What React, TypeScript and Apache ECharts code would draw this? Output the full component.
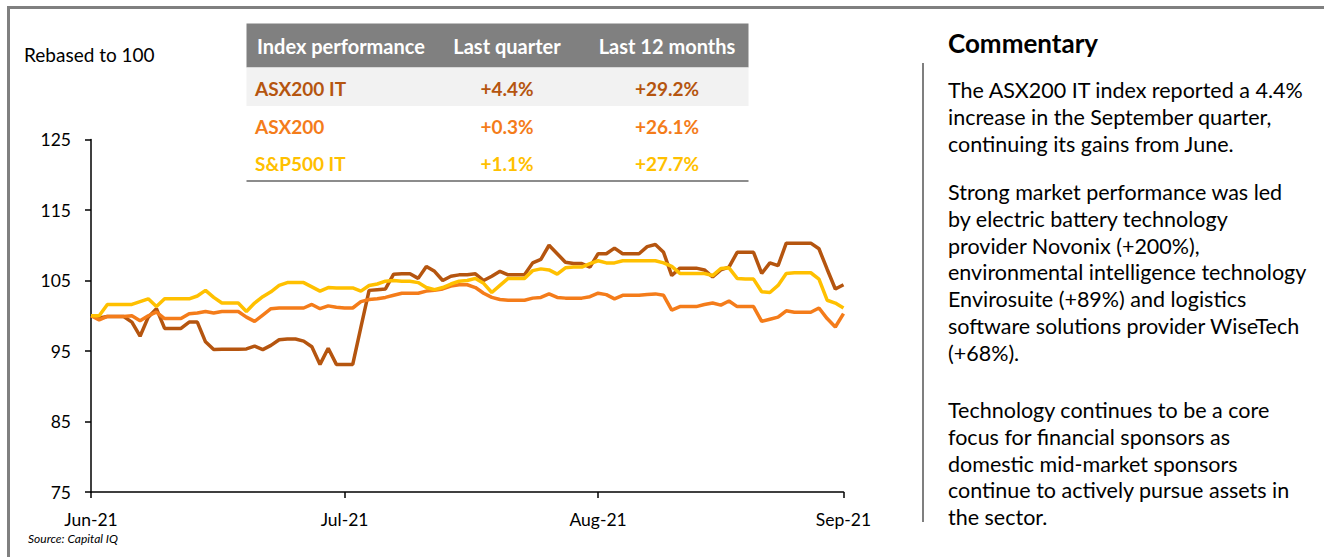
import React, { useEffect, useRef } from "react";
import * as echarts from "echarts";

// ---- Data ----
const seriesNames = ["ASX200 IT", "ASX200", "S&P500 IT"];
const seriesColors = ["#B5550F", "#F47C1A", "#FFC000"];

const asx200It = [
  100.0, 99.7, 99.9, 99.9, 99.9, 99.1, 97.1, 99.8, 101.0, 98.2,
  98.2, 98.2, 99.1, 99.1, 96.3, 95.2, 95.25, 95.25, 95.25, 95.3,
  95.7, 95.2, 95.8, 96.6, 96.7, 96.7, 96.4, 95.6, 93.1, 95.4,
  93.1, 93.1, 93.1, 98.4, 103.6, 103.7, 103.8, 105.9, 105.95, 105.95,
  105.3, 107.0, 106.3, 105.0, 105.6, 105.8, 105.8, 105.95, 105.0, 105.6,
  106.3, 105.8, 105.8, 105.8, 107.5, 108.0, 110.0, 108.8, 107.6, 107.4,
  107.4, 106.9, 108.8, 108.8, 109.6, 108.8, 108.8, 108.8, 109.8, 110.1,
  109.0, 105.7, 106.75, 106.75, 106.75, 106.5, 105.5, 106.5, 106.9, 109.0,
  109.0, 109.0, 106.0, 107.5, 107.1, 110.3, 110.3, 110.3, 110.3, 109.5,
  106.6, 103.8, 104.4,
];

const asx200 = [
  100.0, 99.4, 99.9, 99.9, 99.9, 100.0, 99.3, 100.0, 100.5, 99.6,
  99.6, 99.6, 100.3, 100.4, 100.6, 100.4, 100.6, 100.6, 100.6, 99.8,
  99.2, 100.1, 101.0, 101.1, 101.1, 101.1, 101.1, 101.6, 101.0, 101.4,
  101.2, 101.1, 101.1, 102.0, 102.3, 102.4, 102.6, 102.9, 103.2, 103.2,
  103.2, 103.5, 103.6, 103.8, 104.2, 104.4, 104.4, 104.0, 103.2, 102.6,
  102.3, 102.2, 102.2, 102.2, 102.5, 102.6, 103.1, 102.6, 102.5, 102.5,
  102.5, 102.7, 103.2, 103.0, 102.4, 102.9, 102.9, 102.9, 103.0, 103.1,
  102.9, 100.8, 101.3, 101.3, 101.3, 101.6, 101.8, 101.5, 102.1, 101.3,
  101.3, 101.3, 99.2, 99.5, 99.8, 100.7, 100.5, 100.5, 100.5, 101.1,
  99.6, 98.4, 100.3,
];

const sp500It = [
  100.0, 100.0, 101.6, 101.6, 101.6, 101.6, 102.0, 102.4, 101.3, 102.4,
  102.4, 102.4, 102.4, 102.8, 103.6, 102.6, 101.8, 101.8, 101.8, 100.6,
  101.8, 102.7, 103.4, 104.3, 104.7, 104.7, 104.7, 104.1, 103.5, 104.0,
  103.95, 103.95, 103.95, 103.5, 104.3, 104.5, 104.9, 105.0, 104.9, 104.9,
  104.7, 104.0, 103.7, 104.0, 104.5, 104.9, 105.0, 105.3, 104.6, 103.3,
  104.3, 105.3, 105.3, 105.3, 106.4, 106.65, 106.5, 105.9, 106.8, 106.9,
  106.9, 107.4, 107.8, 107.5, 107.5, 107.8, 107.8, 107.8, 107.8, 107.8,
  107.5, 107.0, 106.0, 106.0, 106.0, 106.0, 105.7, 106.7, 106.8, 105.3,
  105.2, 105.2, 103.4, 103.3, 104.3, 106.0, 106.1, 106.1, 106.1, 105.2,
  102.2, 101.8, 101.1,
];

// daily calendar dates, 30 Jun 2021 .. 30 Sep 2021
const categories: string[] = [];
{
  const start = Date.UTC(2021, 5, 30);
  for (let i = 0; i < asx200It.length; i++) {
    categories.push(new Date(start + i * 86400000).toISOString().slice(0, 10));
  }
}
const tickDates = ["2021-06-30", "2021-07-31", "2021-08-31", "2021-09-30"];
const tickLabels = ["Jun-21", "Jul-21", "Aug-21", "Sep-21"];

const tableHeaders = ["Index performance", "Last quarter", "Last 12 months"];
const lastQuarter = ["+4.4%", "+0.3%", "+1.1%"];
const last12Months = ["+29.2%", "+26.1%", "+27.7%"];

const commentaryTitle = "Commentary";
const commentary = [
  [
    "The ASX200 IT index reported a 4.4%",
    "increase in the September quarter,",
    "continuing its gains from June.",
  ],
  [
    "Strong market performance was led",
    "by electric battery technology",
    "provider Novonix (+200%),",
    "environmental intelligence technology",
    "Envirosuite (+89%) and logistics",
    "software solutions provider WiseTech",
    "(+68%).",
  ],
  [
    "Technology continues to be a core",
    "focus for financial sponsors as",
    "domestic mid-market sponsors",
    "continue to actively pursue assets in",
    "the sector.",
  ],
];

const FONT = "Lato";

export default function App() {
  const ref = useRef<HTMLDivElement>(null);

  useEffect(() => {
    if (!ref.current) return;
    const chart = echarts.init(ref.current, undefined, { renderer: "svg" });

    const graphics: any[] = [];
    // outer frame
    graphics.push({
      type: "line",
      shape: { x1: 7, y1: 7.5, x2: 1324, y2: 7.5 },
      style: { stroke: "#808080", lineWidth: 3 },
    });
    graphics.push({
      type: "line",
      shape: { x1: 8.5, y1: 6, x2: 8.5, y2: 557 },
      style: { stroke: "#808080", lineWidth: 3 },
    });
    graphics.push({
      type: "text",
      x: 24,
      y: 54,
      style: { text: "Rebased to 100", fontFamily: FONT, fontSize: 19, fill: "#000", verticalAlign: "middle" },
    });
    graphics.push({
      type: "text",
      x: 28,
      y: 538,
      style: { text: "Source: Capital IQ", fontFamily: FONT, fontSize: 12, fontStyle: "italic", fill: "#000", verticalAlign: "middle" },
    });

    // table
    const tL = 246.5, tR = 748.5;
    const colX = [257, 507, 667];
    graphics.push({ type: "rect", shape: { x: tL, y: 23.5, width: tR - tL, height: 44 }, style: { fill: "#808080" } });
    graphics.push({ type: "rect", shape: { x: tL, y: 67.5, width: tR - tL, height: 38.5 }, style: { fill: "#F2F2F2" } });
    graphics.push({ type: "line", shape: { x1: tL, y1: 181, x2: tR, y2: 181 }, style: { stroke: "#8C8C8C", lineWidth: 2 } });
    tableHeaders.forEach((h, i) => {
      graphics.push({
        type: "text",
        x: colX[i],
        y: 46,
        style: {
          text: h, fontFamily: FONT, fontSize: 20, fontWeight: "bold", fill: "#fff",
          align: i === 0 ? "left" : "center", verticalAlign: "middle",
        },
      });
    });
    const rowY = [88, 126, 163];
    seriesNames.forEach((n, r) => {
      const cells = [n, lastQuarter[r], last12Months[r]];
      cells.forEach((c, i) => {
        graphics.push({
          type: "text",
          x: i === 0 ? 255 : colX[i],
          y: rowY[r],
          style: {
            text: c, fontFamily: FONT, fontSize: 19, fontWeight: "bold", fill: seriesColors[r],
            align: i === 0 ? "left" : "center", verticalAlign: "middle",
          },
        });
      });
    });

    // commentary
    graphics.push({
      type: "text",
      x: 948,
      y: 43,
      style: { text: commentaryTitle, fontFamily: FONT, fontSize: 26, fontWeight: "bold", fill: "#000", verticalAlign: "middle" },
    });
    graphics.push({
      type: "line",
      shape: { x1: 923, y1: 63, x2: 923, y2: 522 },
      style: { stroke: "#7F7F7F", lineWidth: 2 },
    });
    const pStart = [90, 192, 410];
    const lh = 26.8;
    commentary.forEach((p, pi) => {
      p.forEach((line, li) => {
        graphics.push({
          type: "text",
          x: 948,
          y: pStart[pi] + li * lh,
          style: { text: line, fontFamily: FONT, fontSize: 21.5, fill: "#000", verticalAlign: "middle" },
        });
      });
    });

    const data = [asx200It, asx200, sp500It];

    chart.setOption({
      animation: false,
      backgroundColor: "#fff",
      textStyle: { fontFamily: FONT },
      grid: { left: 91, top: 139.5, width: 752.5, height: 352.5, containLabel: false },
      xAxis: {
        type: "category",
        data: categories,
        boundaryGap: false,
        axisLine: { show: true, lineStyle: { color: "#000", width: 1.5 } },
        axisTick: {
          show: true,
          length: 6,
          interval: (_i: number, v: string) => tickDates.includes(v),
          lineStyle: { color: "#000", width: 1.5 },
        },
        axisLabel: {
          interval: (_i: number, v: string) => tickDates.includes(v),
          formatter: (v: string) => tickLabels[tickDates.indexOf(v)] ?? "",
          color: "#000",
          fontFamily: FONT,
          fontSize: 17.5,
          margin: 18,
        },
        splitLine: { show: false },
      },
      yAxis: {
        type: "value",
        min: 75,
        max: 125,
        interval: 10,
        axisLine: { show: true, lineStyle: { color: "#000", width: 1.5 } },
        axisTick: { show: true, length: 6, lineStyle: { color: "#000", width: 1.5 } },
        axisLabel: { color: "#000", fontFamily: FONT, fontSize: 17.5, margin: 20 },
        splitLine: { show: false },
      },
      series: seriesNames.map((n, i) => ({
        name: n,
        type: "line",
        data: data[i],
        showSymbol: false,
        symbol: "none",
        lineStyle: { color: seriesColors[i], width: 3.5 },
        itemStyle: { color: seriesColors[i] },
        z: 2 + i,
      })),
      graphic: graphics,
    });

    return () => chart.dispose();
  }, []);

  return (
    <div style={{ position: "fixed", left: 0, top: 0, width: 1324, height: 557, background: "#fff" }}>
      <div ref={ref} style={{ width: 1324, height: 557 }} />
    </div>
  );
}
